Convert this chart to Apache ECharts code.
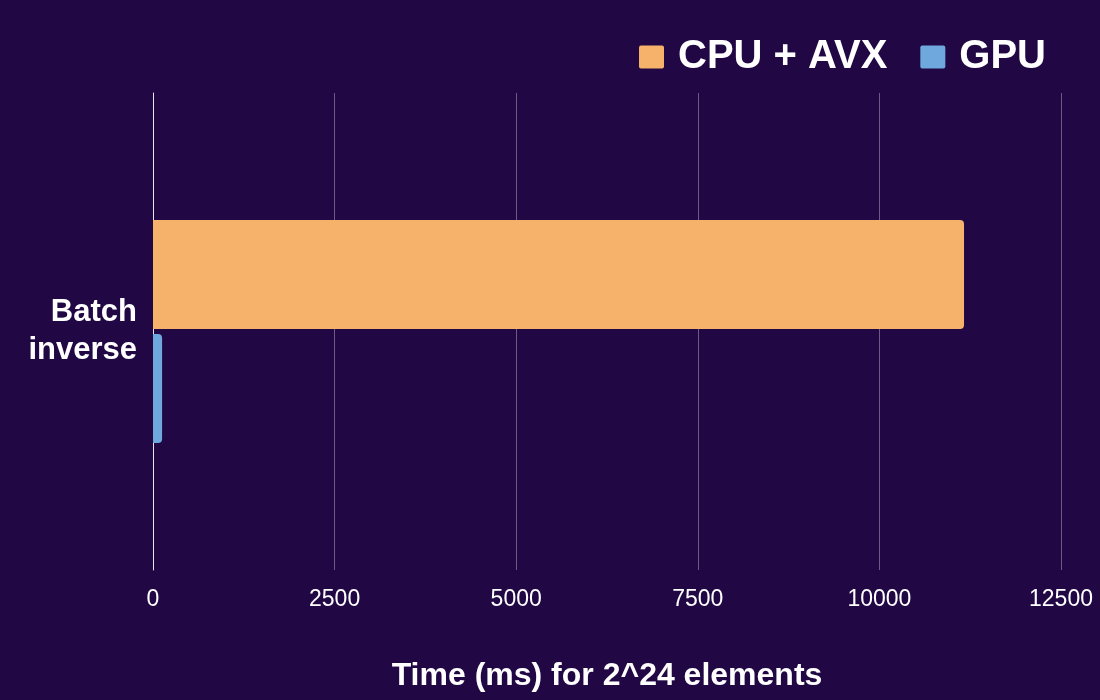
<!DOCTYPE html>
<html>
<head>
<meta charset="utf-8">
<script src="https://cdn.jsdelivr.net/npm/echarts@6/dist/echarts.min.js"></script>
<style>
html,body{margin:0;padding:0;background:#210845;}
#c{width:1100px;height:700px;}
</style>
</head>
<body>
<div id="c"></div>
<script>
const categories = ['Batch\ninverse'];
const seriesNames = ['CPU + AVX', 'GPU'];
const cpuValues = [11165];
const gpuValues = [125];
const xTicks = [0, 2500, 5000, 7500, 10000, 12500];

const chart = echarts.init(document.getElementById('c'));
const font = 'Liberation Sans, Arial, sans-serif';
const icon = 'path://M2,0 H24 Q26,0 26,2 V22 Q26,24 24,24 H2 Q0,24 0,22 V2 Q0,0 2,0 Z';
chart.setOption({
  backgroundColor: '#210845',
  animation: false,
  textStyle: { fontFamily: font },
  legend: {
    right: 49, top: 32,
    itemWidth: 25, itemHeight: 24, itemGap: 33,
    icon: icon,
    textStyle: { color: '#ffffff', fontSize: 40, fontWeight: 'bold', fontFamily: font, padding: [0, 0, 0, 9] },
    data: seriesNames
  },
  grid: { left: 153, right: 39, top: 93, bottom: 130, containLabel: false },
  xAxis: {
    type: 'value',
    min: xTicks[0], max: xTicks[xTicks.length - 1], interval: 2500,
    name: 'Time (ms) for 2^24 elements',
    nameLocation: 'middle', nameGap: 90,
    nameTextStyle: { color: '#ffffff', fontSize: 32, fontWeight: 'bold', fontFamily: font },
    axisLine: { show: false },
    axisTick: { show: false },
    axisLabel: { color: '#ffffff', fontSize: 23, margin: 18, fontFamily: font, formatter: v => String(v) },
    splitLine: { show: true, lineStyle: { color: '#6b5a82', width: 1 } }
  },
  yAxis: {
    type: 'category',
    inverse: true,
    data: categories,
    axisLine: { show: true, lineStyle: { color: '#e8e4ee', width: 1 } },
    axisTick: { show: false },
    axisLabel: { color: '#ffffff', fontSize: 31, fontWeight: 'bold', lineHeight: 38, margin: 16, fontFamily: font, align: 'right', padding: [6, 0, 0, 0] }
  },
  series: [
    { name: seriesNames[0], type: 'bar', data: cpuValues, barWidth: 109, barGap: '4.6%',
      itemStyle: { color: '#F6B26B', borderRadius: [0, 4, 4, 0] } },
    { name: seriesNames[1], type: 'bar', data: gpuValues, barWidth: 109,
      itemStyle: { color: '#6FA8DC', borderRadius: [0, 4, 4, 0] } }
  ]
});
</script>
</body>
</html>
